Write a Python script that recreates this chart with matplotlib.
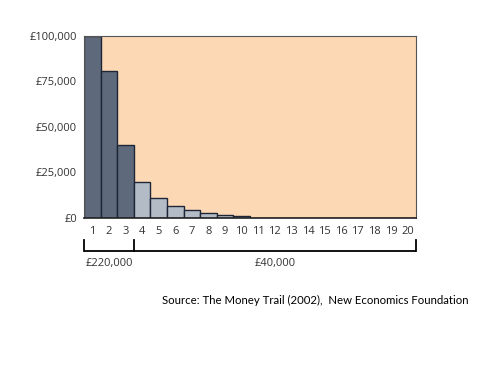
import matplotlib
matplotlib.use("Agg")
import matplotlib.pyplot as plt
from matplotlib.transforms import blended_transform_factory

plt.rcParams['font.family'] = ['Open Sans', 'DejaVu Sans']

positions = list(range(1, 21))
values = [100000, 81000, 40000, 20000, 11000, 6500, 4200, 2800, 1800, 1000,
          0, 0, 0, 0, 0, 0, 0, 0, 0, 0]
ytick_vals = [0, 25000, 50000, 75000, 100000]
ytick_labels = ["£0", "£25,000", "£50,000", "£75,000", "£100,000"]
group_labels = ["£220,000", "£40,000"]
group_bounds = [0.5, 3.5, 20.5]
source_text = "Source: The Money Trail (2002),  New Economics Foundation"

dark = "#5e6a7b"
light = "#b3bcc6"
colors = [dark if i < 3 else light for i in range(len(values))]

fig = plt.figure(figsize=(5, 3.75), dpi=100)
ax = fig.add_axes([0.168, 0.419, 0.664, 0.485])
ax.set_facecolor("#fdd8b5")
ax.bar(positions, values, width=1.0, color=colors, edgecolor="#1c2636", linewidth=1.0, zorder=2)
ax.set_xlim(0.5, 20.5)
ax.set_ylim(0, 100000)
ax.set_xticks(positions)
ax.set_xticklabels([str(p) for p in positions], fontsize=8, color="#333333")
ax.set_yticks(ytick_vals)
ax.set_yticklabels(ytick_labels, fontsize=8, color="#333333")
ax.tick_params(axis='x', length=0, pad=6)
ax.tick_params(axis='y', length=0, pad=5)
for s in ax.spines.values():
    s.set_color("#555555")
    s.set_linewidth(0.8)
ax.spines['bottom'].set_color("#222222")
ax.spines['bottom'].set_linewidth(1.2)

tr = blended_transform_factory(ax.transData, ax.transAxes)
yline = -0.18
ytop = -0.12
ax.plot([group_bounds[0], group_bounds[-1]], [yline, yline], color="black", lw=1.3,
        transform=tr, clip_on=False, solid_capstyle="butt")
for b in group_bounds:
    ax.plot([b, b], [yline, ytop], color="black", lw=1.3, transform=tr, clip_on=False)
for i, lab in enumerate(group_labels):
    if i == 0:
        xc = (group_bounds[0] + group_bounds[1]) / 2
    else:
        xc = (group_bounds[1] + group_bounds[2]) / 2
    ax.text(xc, -0.25, lab, transform=tr, ha="center", va="center", fontsize=8, color="#333333")

fig.text(0.324, 0.2, source_text, ha="left", va="center", fontsize=8.2, color="black",
         family=['Lato', 'DejaVu Sans'])

fig.savefig("out.png", dpi=100)
